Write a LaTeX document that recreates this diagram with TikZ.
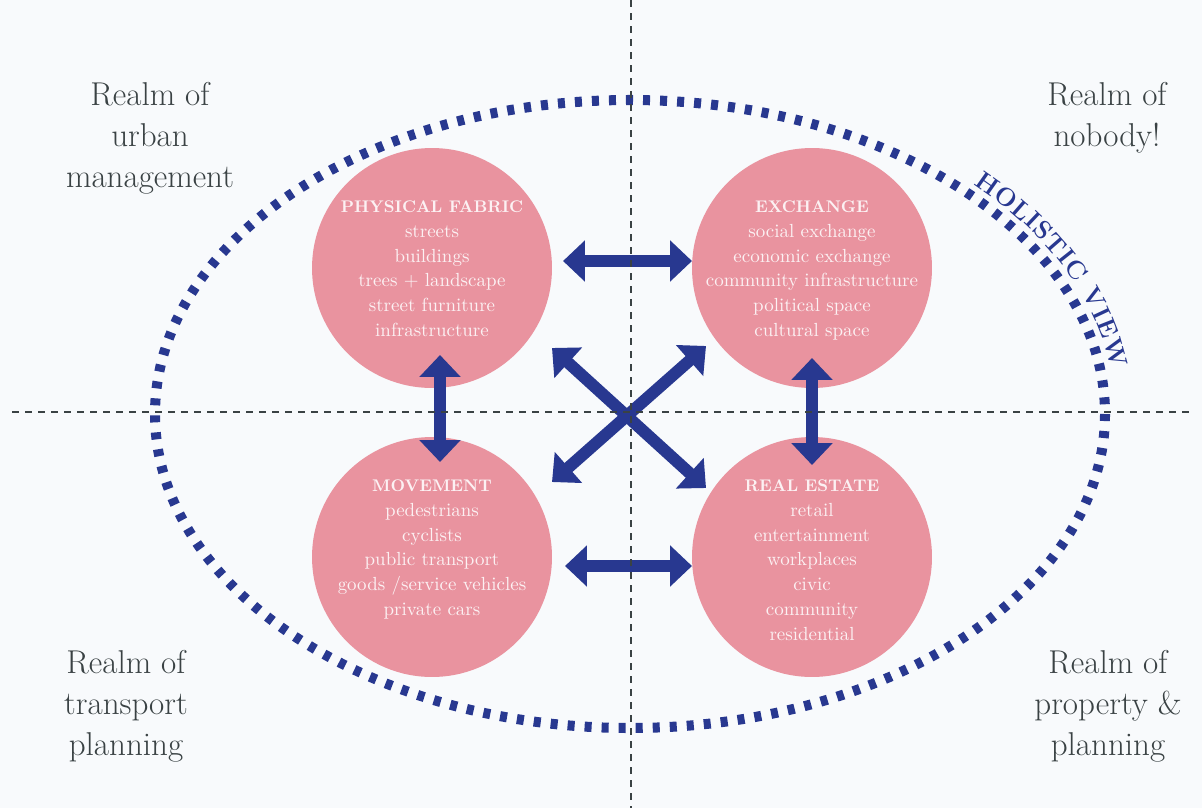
\documentclass[tikz,border=0pt]{standalone}
\usepackage{fontspec}
\usetikzlibrary{positioning,arrows.meta,calc,decorations.text}
\definecolor{blobpink}{RGB}{233,147,159}
\definecolor{blobtext}{RGB}{252,241,243}
\definecolor{viewblue}{RGB}{40,56,144}
\definecolor{realmgray}{RGB}{58,66,68}
\definecolor{paper}{RGB}{248,250,252}
\newcommand{\blobheadfont}{\fontsize{9.6}{14.2}\selectfont\bfseries}

\begin{document}
\begin{tikzpicture}[x=0.02cm,y=-0.02cm,
  blob/.style={circle,fill=blobpink,minimum size=4.8cm,inner sep=0pt},
  blobtxt/.style={anchor=north,inner sep=0pt,align=center,text=blobtext,
    font=\fontsize{10.8}{14.2}\selectfont},
  realm/.style={anchor=north,inner sep=0pt,align=center,text=realmgray,
    font=\fontsize{18.8}{23.3}\selectfont},
  dbl/.style={{Triangle[width=22.8pt,length=12.5pt]}-{Triangle[width=22.8pt,length=12.5pt]},
    line width=6.8pt,draw=viewblue},
  quad/.style={realmgray,line width=1.4pt,dash pattern=on 4pt off 3.4pt}]
\useasboundingbox (0,0) rectangle (1202,808);
\fill[paper] (0,0) rectangle (1202,808);
% the four circles
\foreach \n/\x/\y in {phys/432/268,exch/812/268,move/432/557,real/812/557}
  \node[blob] (\n) at (\x,\y) {};
% links between circles
\draw[dbl] ($(phys.center)+(131,-7)$) -- ($(exch.center)+(-120,-7)$);
\draw[dbl] ($(move.center)+(133,9)$) -- ($(real.center)+(-120,9)$);
\draw[dbl] ($(phys.center)+(8,87)$) -- ($(move.center)+(8,-95)$);
\draw[dbl] ($(exch.center)+(0,90)$) -- ($(real.center)+(0,-92)$);
\draw[dbl] ($(phys.center)+(120,80)$) -- ($(real.center)+(-106,-69)$);
\draw[dbl] ($(exch.center)+(-106,78)$) -- ($(move.center)+(120,-75)$);
% holistic view ring
\draw[viewblue,line width=5.7pt,dash pattern=on 4pt off 5.7pt]
  (630,414) ellipse [x radius=475,y radius=314];
\path[decorate,decoration={text along path,text color=viewblue,
    text align={fit to path},
    text={|\fontsize{14.5}{16}\selectfont\bfseries|HOLISTIC VIEW}}]
  (630,414) ++(-45:486 and 325) arc[start angle=-45,end angle=-8,x radius=486,y radius=325];
% quadrant lines
\draw[quad] (631,0) -- (631,808);
\draw[quad] (12,412) -- (1195,412);
% circle contents
\node[blobtxt] (physlbl) at ($(phys.center)+(0,-68)$)
  {{\blobheadfont PHYSICAL FABRIC}\\streets\\buildings\\trees + landscape\\street furniture\\infrastructure};
\node[blobtxt] (exchlbl) at ($(exch.center)+(0,-68)$)
  {{\blobheadfont EXCHANGE}\\social exchange\\economic exchange\\community infrastructure\\political space\\cultural space};
\node[blobtxt] (movelbl) at ($(move.center)+(0,-78)$)
  {{\blobheadfont MOVEMENT}\\pedestrians\\cyclists\\public transport\\goods /service vehicles\\private cars};
\node[blobtxt] (reallbl) at ($(real.center)+(0,-78)$)
  {{\blobheadfont REAL ESTATE}\\retail\\entertainment\\workplaces\\civic\\community\\residential};
% the four realms
\node[realm] (urban) at (150,82) {Realm of\\urban\\management};
\node[realm] (nobody) at (1107,82) {Realm of\\nobody!};
\node[realm] (transport) at (126,650) {Realm of\\transport\\planning};
\node[realm] (property) at (1108,650) {Realm of\\property \&\\planning};
\end{tikzpicture}
\end{document}
